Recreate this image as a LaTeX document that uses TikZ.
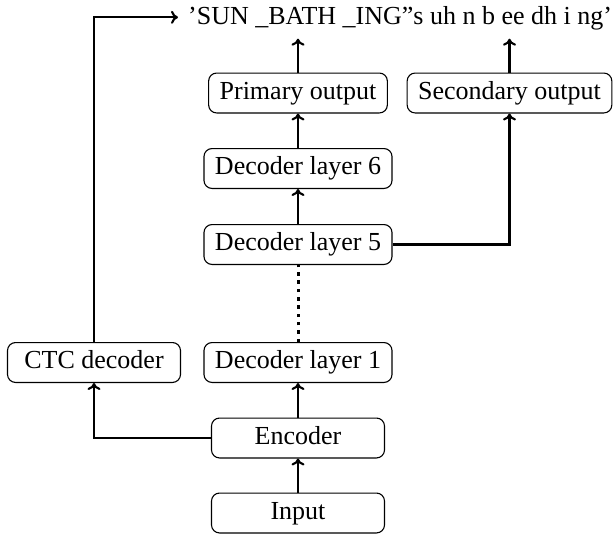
\documentclass[tikz,border=0pt]{standalone}
\usepackage{fontspec}
\setmainfont{Liberation Serif}
\usetikzlibrary{arrows.meta}
\tikzset{
  box/.style={draw, line width=1.1pt, rounded corners=8pt, minimum width=173pt,
    inner xsep=11pt, inner ysep=8pt, text height=18.2pt, text depth=5.7pt,
    font=\fontsize{26}{31}\selectfont},
  conn/.style={line width=2.1pt, -{To[length=7pt,width=13pt]}},
  dots/.style={line width=3pt, dash pattern=on 3.5pt off 4.8pt},
  outtext/.style={inner xsep=10pt, inner ysep=10pt, text height=18.2pt, text depth=4.2pt,
    font=\fontsize{26}{31}\selectfont, anchor=west}
}
\begin{document}
\begin{tikzpicture}[x=1pt,y=-1pt]
\useasboundingbox (0,0) rectangle (614,536);
\node[box] (inp) at (298,513) {Input};
\node[box] (enc) at (298,438) {Encoder};
\node[box] (dec1) at (298,362.5) {Decoder layer 1};
\node[box] (dec5) at (298,244.5) {Decoder layer 5};
\node[box] (dec6) at (298,168.5) {Decoder layer 6};
\node[box] (prim) at (298,93) {Primary output};
\node[box] (sec) at (509.5,93) {Secondary output};
\node[box] (ctc) at (94,362.5) {CTC decoder};
\node[outtext] (out) at (178,17.3) {'SUN \_BATH \_ING''s uh n b ee dh i ng'};
\draw[conn] (inp) -- (enc);
\draw[conn] (enc) -- (dec1);
\draw[conn] (enc.west) -| (ctc.south);
\draw[dots] (dec1.north) -- (dec5.south);
\draw[conn] (dec5) -- (dec6);
\draw[conn] (dec6) -- (prim);
\draw[conn] (dec5.east) -| (sec.south);
\draw[conn] (prim.north) -- (prim.north |- out.south);
\draw[conn] (sec.north) -- (sec.north |- out.south);
\draw[conn] (ctc.north) |- (out.west);
\end{tikzpicture}
\end{document}
